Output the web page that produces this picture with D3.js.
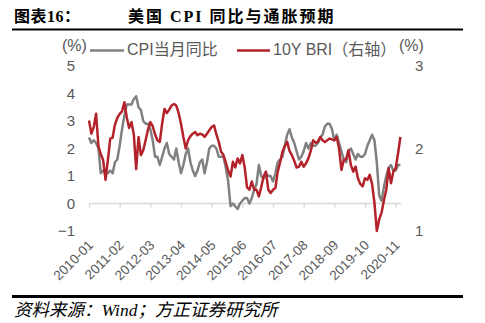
<!DOCTYPE html>
<html>
<head>
<meta charset="utf-8">
<script src="https://cdn.jsdelivr.net/npm/d3@7"></script>
<style>
  html, body { margin: 0; padding: 0; background: #fff; }
  svg { display: block; }
</style>
</head>
<body>
<svg id="chart" width="485" height="323"></svg>
<script>
// ---- data ----
const startYear = 2010, startMonth = 1, monthCount = 133;   // 2010-01 .. 2021-01
const months = d3.range(monthCount).map(i => {
  const y = startYear + Math.floor((startMonth - 1 + i) / 12);
  const m = (startMonth - 1 + i) % 12 + 1;
  return y + "-" + String(m).padStart(2, "0");
});
const tickLabels = ["2010-01","2011-02","2012-03","2013-04","2014-05","2015-06","2016-07","2017-08","2018-09","2019-10","2020-11"];
const leftTicks = [-1, 0, 1, 2, 3, 4, 5];
const rightTicks = [1, 2, 3];

// US CPI YoY (%), left axis
const cpi = [
  2.4, 2.2, 2.3, 2.2, 2.0, 1.1, 1.2, 1.1, 1.1, 1.2, 1.1, 1.5,
  1.6, 2.1, 2.7, 3.2, 3.6, 3.6, 3.6, 3.8, 3.9, 3.5, 3.4, 3.0,
  2.9, 2.9, 2.7, 2.3, 1.7, 1.7, 1.4, 1.7, 2.0, 2.2, 1.8, 1.7,
  1.6, 2.0, 1.5, 1.1, 1.4, 1.8, 2.0, 1.5, 1.2, 1.0, 1.2, 1.5,
  1.6, 1.1, 1.5, 2.0, 2.1, 2.1, 2.0, 1.7, 1.7, 1.7, 1.3, 0.8,
  -0.1, 0.0, -0.1, -0.2, 0.0, 0.1, 0.2, 0.2, 0.0, 0.2, 0.5, 0.7,
  1.4, 1.0, 0.9, 1.1, 1.0, 1.0, 0.8, 1.1, 1.5, 1.6, 1.7, 2.1,
  2.5, 2.7, 2.4, 2.2, 1.9, 1.6, 1.7, 1.9, 2.2, 2.0, 2.2, 2.1,
  2.1, 2.2, 2.4, 2.5, 2.8, 2.9, 2.9, 2.7, 2.3, 2.5, 2.2, 1.9,
  1.6, 1.5, 1.9, 2.0, 1.8, 1.6, 1.8, 1.7, 1.7, 1.8, 2.1, 2.3,
  2.5, 2.3, 1.5, 0.3, 0.1, 0.6, 1.0, 1.3, 1.4, 1.2, 1.2, 1.4,
  1.4
];

// 10Y breakeven inflation (%), right axis
const bri = [
  2.34, 2.18, 2.26, 2.42, 2.03, 1.93, 1.86, 1.62, 1.86, 2.12, 2.13, 2.29,
  2.37, 2.42, 2.45, 2.56, 2.38, 2.25, 2.32, 2.17, 1.75, 2.14, 1.92, 1.98,
  2.10, 2.23, 2.32, 2.27, 2.17, 2.10, 2.08, 2.30, 2.48, 2.43, 2.47, 2.52,
  2.54, 2.52, 2.43, 2.30, 2.14, 2.00, 2.10, 2.15, 2.18, 2.20, 2.16, 2.18,
  2.17, 2.14, 2.18, 2.22, 2.26, 2.28, 2.17, 2.08, 1.96, 1.92, 1.83, 1.73,
  1.66, 1.84, 1.77, 1.88, 1.82, 1.92, 1.77, 1.53, 1.50, 1.60, 1.50, 1.50,
  1.42, 1.53, 1.66, 1.72, 1.50, 1.46, 1.50, 1.52, 1.72, 1.83, 1.96, 2.03,
  2.08, 1.97, 1.92, 1.85, 1.77, 1.78, 1.84, 1.78, 1.82, 1.88, 1.97, 2.10,
  2.07, 2.08, 2.14, 2.10, 2.08, 2.10, 2.12, 2.11, 2.10, 2.14, 2.00, 1.74,
  1.86, 1.87, 1.98, 1.80, 1.72, 1.78, 1.64, 1.57, 1.54, 1.64, 1.62, 1.68,
  1.57, 1.34, 1.00, 1.14, 1.22, 1.37, 1.50, 1.76, 1.58, 1.72, 1.76, 1.94,
  2.14
];

// ---- drawing ----
const svg = d3.select("#chart");
const cjk = "'Liberation Serif', 'Noto Sans CJK SC', serif";
const sans = "'Liberation Sans', Arial, 'Noto Sans CJK SC', sans-serif";
const axisColor = "#595959";

const x = d3.scalePoint().domain(months).range([89, 400.4]);
const yL = d3.scaleLinear().domain([-1, 5]).range([231, 66]);
const yR = d3.scaleLinear().domain([1, 3]).range([231, 66]);

// title
svg.append("text").attr("x", 14).attr("y", 22)
  .attr("font-family", cjk).attr("font-weight", "bold").attr("font-size", 16)
  .attr("letter-spacing", 0.5)
  .attr("fill", "#000").text("图表16：");
svg.append("text").attr("x", 128).attr("y", 22)
  .attr("font-family", cjk).attr("font-weight", "bold").attr("font-size", 16)
  .attr("letter-spacing", 2)
  .attr("fill", "#000").text("美国 CPI 同比与通胀预期");
svg.append("line").attr("x1", 12).attr("x2", 463).attr("y1", 29.5).attr("y2", 29.5)
  .attr("stroke", "#000").attr("stroke-width", 2);

// footer
svg.append("line").attr("x1", 12).attr("x2", 463).attr("y1", 296.5).attr("y2", 296.5)
  .attr("stroke", "#000").attr("stroke-width", 3);
svg.append("text").attr("x", 14).attr("y", 316)
  .attr("font-family", cjk).attr("font-style", "italic").attr("font-size", 17.5)
  .attr("fill", "#000").text("资料来源：Wind；方正证券研究所");

// zero baseline axis with ticks
const xAxis = d3.axisBottom(x).tickValues(tickLabels).tickSize(4).tickFormat("");
const gx = svg.append("g").attr("transform", `translate(0,${yL(0)})`).call(xAxis);
gx.select(".domain").attr("stroke", "#D9D9D9").attr("stroke-width", 1.5)
  .attr("d", `M${x(months[0])},0H${x(months[months.length - 1]) + 1}`);
gx.selectAll(".tick line").attr("stroke", "#D9D9D9").attr("stroke-width", 1.5);

// x labels at bottom
svg.append("g").selectAll("text").data(tickLabels).join("text")
  .attr("transform", d => `translate(${x(d) + 5},${246}) rotate(-45)`)
  .attr("text-anchor", "end")
  .attr("font-family", sans).attr("font-size", 13.5).attr("fill", axisColor)
  .text(d => d);

// left axis
const gl = svg.append("g").attr("transform", "translate(75,0)")
  .call(d3.axisLeft(yL).tickValues(leftTicks).tickSize(0).tickPadding(0).tickFormat(d3.format("d")));
gl.select(".domain").remove();
gl.selectAll("text").attr("font-family", sans).attr("font-size", 15).attr("fill", axisColor);

// right axis
const gr = svg.append("g").attr("transform", "translate(415,0)")
  .call(d3.axisRight(yR).tickValues(rightTicks).tickSize(0).tickPadding(0).tickFormat(d3.format("d")));
gr.select(".domain").remove();
gr.selectAll("text").attr("font-family", sans).attr("font-size", 15).attr("fill", axisColor);

// lines
const lineL = d3.line().x((d, i) => x(months[i])).y(d => yL(d));
const lineR = d3.line().x((d, i) => x(months[i])).y(d => yR(d));
svg.append("path").datum(cpi).attr("d", lineL)
  .attr("fill", "none").attr("stroke", "#808080").attr("stroke-width", 2.5).attr("stroke-linejoin", "round");
svg.append("path").datum(bri).attr("d", lineR)
  .attr("fill", "none").attr("stroke", "#B3222A").attr("stroke-width", 2.5).attr("stroke-linejoin", "round");

// legend
const lg = svg.append("g").attr("font-family", sans).attr("fill", axisColor);
lg.append("text").attr("x", 62).attr("y", 51).attr("font-size", 16).attr("fill", axisColor).text("(%)");
lg.append("line").attr("x1", 90).attr("x2", 124).attr("y1", 50.5).attr("y2", 50.5)
  .attr("stroke", "#808080").attr("stroke-width", 2.5);
lg.append("text").attr("x", 127).attr("y", 55).attr("font-size", 16).attr("fill", axisColor).text("CPI当月同比");
lg.append("line").attr("x1", 237).attr("x2", 270).attr("y1", 50.5).attr("y2", 50.5)
  .attr("stroke", "#B3222A").attr("stroke-width", 2.5);
lg.append("text").attr("x", 273).attr("y", 55).attr("font-size", 16).attr("fill", axisColor).text("10Y BRI（右轴）");
lg.append("text").attr("x", 399).attr("y", 51).attr("font-size", 16).attr("fill", axisColor).text("(%)");
</script>
</body>
</html>
